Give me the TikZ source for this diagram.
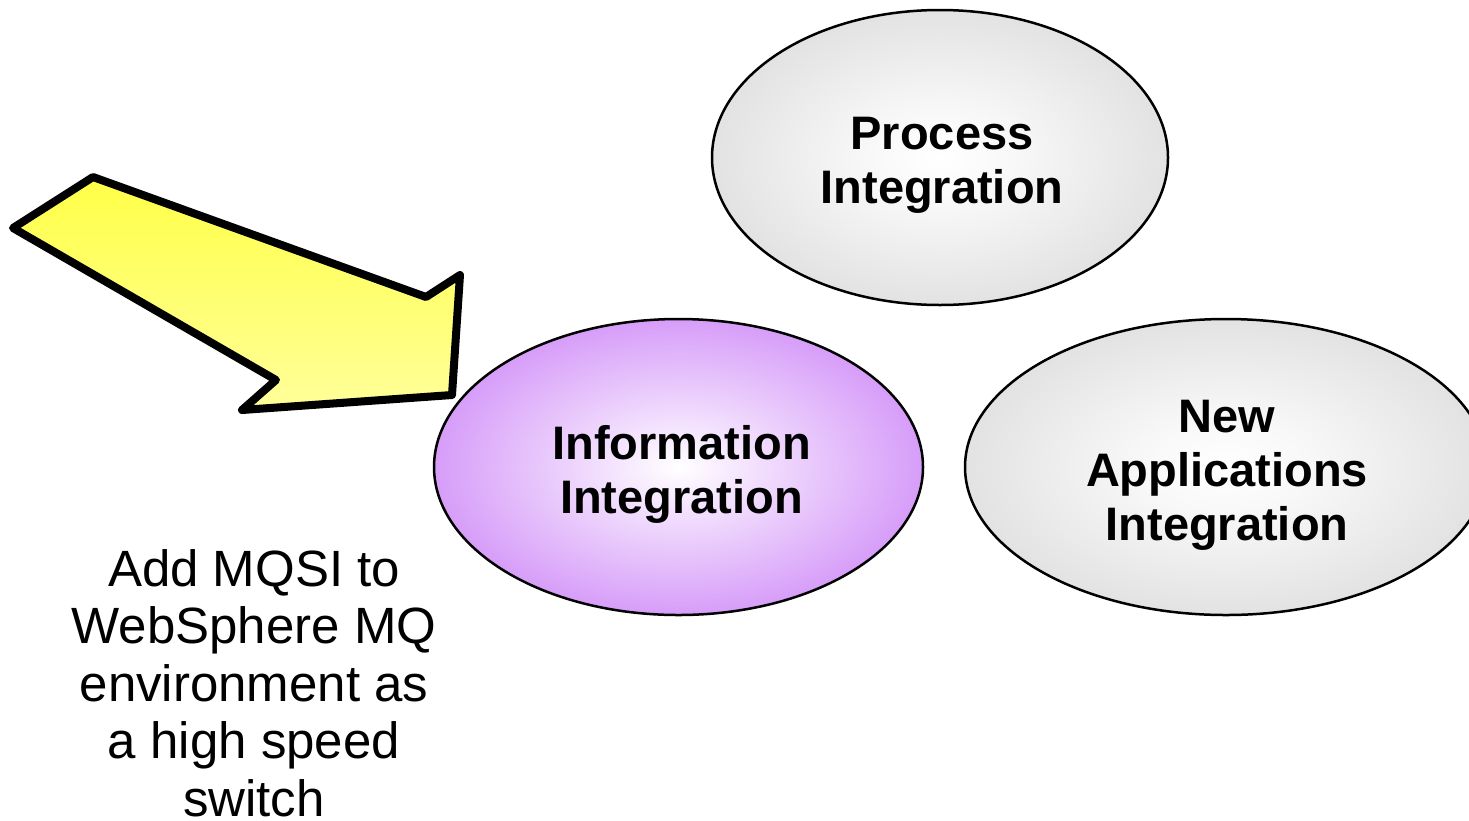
\documentclass[tikz,border=0pt]{standalone}
\usepackage{fontspec}
\setmainfont{Liberation Sans}
\usetikzlibrary{shapes.geometric}
\definecolor{edgegray}{RGB}{196,196,196}
\definecolor{edgepurple}{RGB}{182,78,244}
\definecolor{yeltop}{RGB}{255,255,30}
\definecolor{yelbot}{RGB}{255,255,195}
\pgfdeclareradialshading{grayball}{\pgfpoint{0bp}{0bp}}{color(0bp)=(white); color(8bp)=(white!88!edgegray); color(28bp)=(white!45!edgegray); color(46bp)=(edgegray); color(50bp)=(edgegray)}
\pgfdeclareradialshading{purpleball}{\pgfpoint{0bp}{0bp}}{color(0bp)=(white); color(8bp)=(white!82!edgepurple); color(28bp)=(white!38!edgepurple); color(46bp)=(edgepurple); color(50bp)=(edgepurple)}
\pgfdeclareverticalshading{yelgrad}{100bp}{color(0bp)=(yelbot); color(100bp)=(yeltop)}
\tikzset{
  oval/.style={ellipse, draw=black, line width=2.5pt, inner sep=0pt},
  ovaltext/.style={align=center, inner sep=0pt, font=\fontsize{47}{54}\selectfont\bfseries},
  bigarrow/.style={draw=black, line width=8pt, line join=round, shading=yelgrad},
  note/.style={align=center, font=\fontsize{51}{57.5}\selectfont}
}
\begin{document}
\begin{tikzpicture}[x=1pt,y=-1pt]
\useasboundingbox (0,0) rectangle (1469,820);
\node[oval, shading=grayball, minimum width=456pt, minimum height=295pt] (proc) at (940,157.5) {};
\node[oval, shading=purpleball, minimum width=489pt, minimum height=296pt] (info) at (678.5,467) {};
\node[oval, shading=grayball, minimum width=522pt, minimum height=296pt] (newapp) at (1226,467) {};
\node[ovaltext] (proct) at ([shift={(2,8)}]proc.center) {Process\\Integration};
\node[ovaltext] (infot) at ([shift={(3,7)}]info.center) {Information\\Integration};
\node[ovaltext] (newappt) at ([shift={(1,8)}]newapp.center) {New\\Applications\\Integration};
\path[bigarrow] (13,228) -- (93,177) -- (426,297) -- (460,275) -- (452,395) -- (242,410) -- (276,380) -- cycle;
\node[note] (add) at (254,683) {Add MQSI to\\WebSphere MQ\\environment as\\a high speed\\switch};
\end{tikzpicture}
\end{document}
